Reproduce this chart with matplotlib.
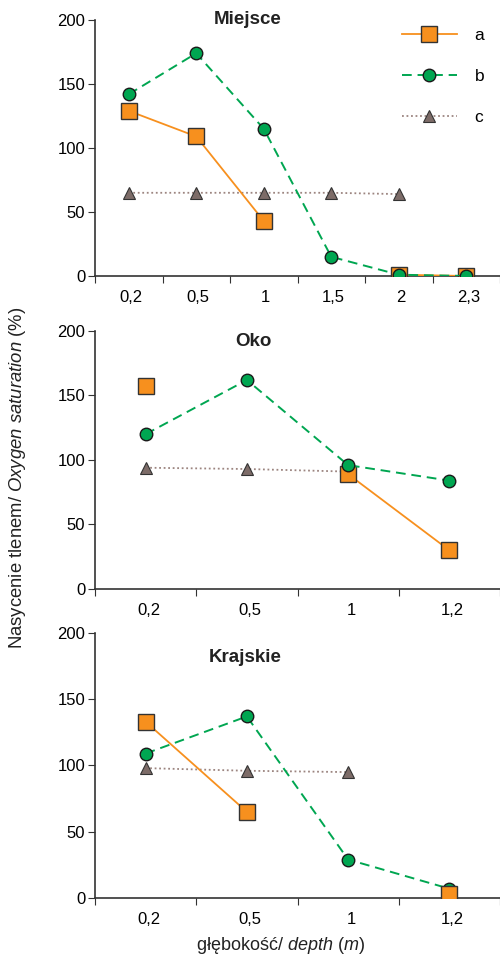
import matplotlib.pyplot as plt
import numpy as np

plt.rcParams['font.family'] = ['Liberation Sans', 'DejaVu Sans']
plt.rcParams['mathtext.fontset'] = 'custom'
plt.rcParams['mathtext.rm'] = 'Liberation Sans'
plt.rcParams['mathtext.it'] = 'Liberation Sans:italic'

#---------------------------------------------------- data ----------------------------------------------------#
nan = np.nan

titles = ["Miejsce", "Oko", "Krajskie"]

depths_miejsce = ["0,2", "0,5", "1", "1,5", "2", "2,3"]
a_miejsce = [129, 109, 43, nan, 1, 0]
b_miejsce = [142, 174, 115, 15, 1, 0]
c_miejsce = [65, 65, 65, 65, 64, nan]

depths_oko = ["0,2", "0,5", "1", "1,2"]
a_oko = [157, nan, 89, 30]
b_oko = [120, 162, 96, 84]
c_oko = [94, 93, 91, nan]

depths_krajskie = ["0,2", "0,5", "1", "1,2"]
a_krajskie = [133, 65, nan, 3]
b_krajskie = [109, 137, 29, 7]
c_krajskie = [98, 96, 95, nan]

#---------------------------------------------------- plot ----------------------------------------------------#
fig = plt.figure(figsize=(5, 9.56), dpi=100)

boxes = [[0.19, 0.7113, 0.81, 0.2678],
         [0.19, 0.3839, 0.81, 0.2699],
         [0.19, 0.0607, 0.81, 0.2772]]
title_pos = [(0.377, 1.0), (0.39, 0.961), (0.37, 0.909)]

panels = [(depths_miejsce, a_miejsce, b_miejsce, c_miejsce),
          (depths_oko, a_oko, b_oko, c_oko),
          (depths_krajskie, a_krajskie, b_krajskie, c_krajskie)]

edge = "#333333"
for i, (depths, a, b, c) in enumerate(panels):
    ax = fig.add_axes(boxes[i])
    x = np.arange(len(depths))
    # dans Krajskie le carré passe devant le rond
    za = 5 if i == 2 else 3
    ax.plot(x, c, linestyle=(0, (1, 1.5)), color="#9c8580", lw=1.3, marker="^",
            markersize=8.5, markerfacecolor="#7d6c68", markeredgecolor=edge, markeredgewidth=0.8,
            label="c", zorder=2)
    ax.plot(x, a, linestyle="-", color="#f7901e", lw=1.3, marker="s",
            markersize=11, markerfacecolor="#f7901e", markeredgecolor=edge, markeredgewidth=1,
            label="a", zorder=za)
    ax.plot(x, b, linestyle=(0, (5, 3)), color="#00a651", lw=1.4, marker="o",
            markersize=9, markerfacecolor="#00a651", markeredgecolor="#1a1a1a", markeredgewidth=1,
            label="b", zorder=4)

    ax.set_xlim(-0.5, len(depths) - 0.5)
    ax.set_ylim(0, 200)
    ax.set_yticks([0, 50, 100, 150, 200])
    ax.set_xticks(np.arange(len(depths) + 1) - 0.5)
    ax.set_xticklabels([])
    ax.set_xticks(x + 0.03, labels=depths, minor=True)
    ax.tick_params(axis="x", which="minor", length=0, pad=10, labelsize=12)
    ax.tick_params(axis="x", which="major", length=5, direction="out", color=edge)
    ax.tick_params(axis="y", length=5, direction="out", color=edge, labelsize=12, pad=2)
    ax.spines["top"].set_visible(False)
    ax.spines["right"].set_visible(False)
    ax.spines["left"].set_color(edge)
    ax.spines["bottom"].set_color(edge)
    ax.spines["left"].set_linewidth(1.2)
    ax.spines["bottom"].set_linewidth(1.2)
    ax.patch.set_visible(False)
    ax.text(title_pos[i][0], title_pos[i][1], titles[i], transform=ax.transAxes,
            ha="center", va="center", fontsize=13.5, fontweight="bold", color="#222222")

    if i == 0:
        h, l = ax.get_legend_handles_labels()
        order = [1, 2, 0]
        ax.legend([h[k] for k in order], [l[k] for k in order], loc="upper right",
                  frameon=False, fontsize=12.5, handlelength=3.2, labelspacing=1.5,
                  handletextpad=1.0, bbox_to_anchor=(1.0, 1.03))

fig.text(0.036, 0.5, "Nasycenie tlenem/ $\\mathit{Oxygen\\ saturation}$ (%)", rotation=90,
         ha="center", va="center", fontsize=13.3, color="#222222")
fig.text(0.56, 0.011, "głębokość/ $\\mathit{depth}$ ($\\mathit{m}$)", ha="center", va="center",
         fontsize=13, color="#222222")

plt.savefig("out.png", dpi=100)
